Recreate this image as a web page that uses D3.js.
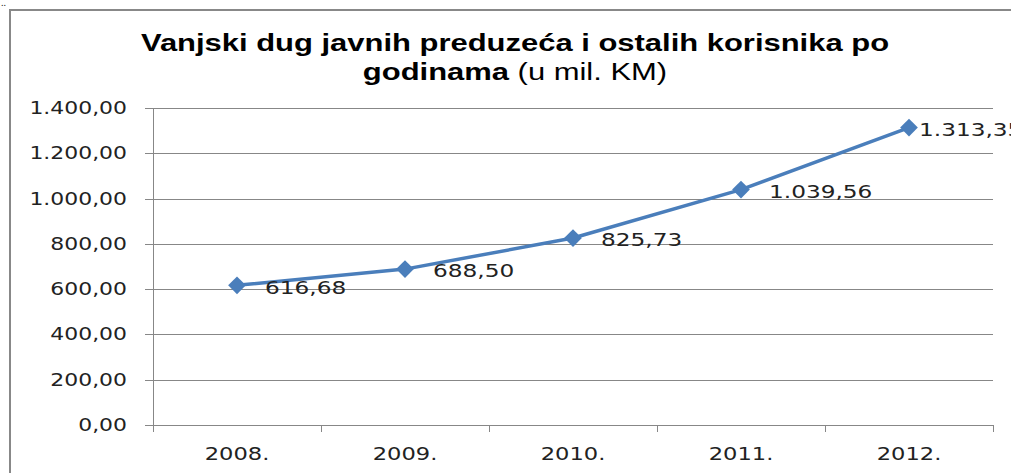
<!DOCTYPE html>
<html><head><meta charset="utf-8">
<script src="https://cdn.jsdelivr.net/npm/d3@7"></script>
<style>body{margin:0;background:#fff}svg{display:block}</style>
</head><body>
<script>
const categories = ["2008.", "2009.", "2010.", "2011.", "2012."];
const values = [616.68, 688.50, 825.73, 1039.56, 1313.35];
const yTicks = [0, 200, 400, 600, 800, 1000, 1200, 1400];
const titleLine1 = "Vanjski dug javnih preduzeća i ostalih korisnika po";
const titleLine2Bold = "godinama";
const titleLine2Rest = " (u mil. KM)";

(function () {
const W = 1011, H = 473;
const SX = 1.29;
const svg = d3.select("body").append("svg").attr("width", W).attr("height", H);
const fmt = v => {
  const s = v.toFixed(2).replace(".", ",");
  const [i, d] = s.split(",");
  return i.replace(/\B(?=(\d{3})+(?!\d))/g, ".") + "," + d;
};

svg.append("path").attr("d", "M10,473 V10 H1011").attr("fill", "none").attr("stroke", "#888").attr("stroke-width", 2);
svg.append("text").attr("x", 1).attr("y", 6).attr("font-size", 10).attr("fill", "#222").text("..");

const pL = 153, pR = 993, pT = 108, pB = 425;
const x = d3.scaleBand().domain(categories).range([pL, pR]);
const y = d3.scaleLinear().domain([0, 1400]).range([pB, pT]);

const tickFont = "'DejaVu Sans', sans-serif";
svg.append("g").selectAll("line").data(yTicks).join("line")
  .attr("x1", pL - 8).attr("x2", pR).attr("y1", d => Math.round(y(d)) + 0.5).attr("y2", d => Math.round(y(d)) + 0.5)
  .attr("stroke", "#878787").attr("stroke-width", 1);
svg.append("line").attr("x1", pL + 0.5).attr("x2", pL + 0.5).attr("y1", pT).attr("y2", pB + 7)
  .attr("stroke", "#878787");
svg.append("g").selectAll("line").data(categories).join("line")
  .attr("x1", d => Math.round(x(d) + x.bandwidth()) + 0.5).attr("x2", d => Math.round(x(d) + x.bandwidth()) + 0.5)
  .attr("y1", pB).attr("y2", pB + 7)
  .attr("stroke", "#878787");

svg.append("g").selectAll("text").data(yTicks).join("text")
  .attr("transform", d => `translate(127,${y(d)}) scale(${SX},1)`)
  .attr("dy", "0.35em").attr("text-anchor", "end")
  .attr("font-family", tickFont).attr("font-size", 17).attr("fill", "#222")
  .text(d => fmt(d));
svg.append("g").selectAll("text").data(categories).join("text")
  .attr("transform", d => `translate(${x(d) + x.bandwidth() / 2},460) scale(${SX},1)`)
  .attr("text-anchor", "middle")
  .attr("font-family", tickFont).attr("font-size", 17.5).attr("fill", "#222")
  .text(d => d);

const cx = (d, i) => x(categories[i]) + x.bandwidth() / 2;
svg.append("path").datum(values)
  .attr("d", d3.line().x((d, i) => cx(d, i)).y(d => y(d)))
  .attr("fill", "none").attr("stroke", "#4A7EBB").attr("stroke-width", 3.5).attr("stroke-linejoin", "round");
svg.append("g").selectAll("path").data(values).join("path")
  .attr("transform", (d, i) => `translate(${cx(d, i)},${y(d)})`)
  .attr("d", d3.symbol(d3.symbolDiamond2, 200))
  .attr("fill", "#4A7EBB");
svg.append("g").selectAll("text").data(values).join("text")
  .attr("dy", "0.35em")
  .attr("font-family", tickFont).attr("font-size", 18).attr("fill", "#222")
  .text(d => fmt(d))
  .each(function (d, i) {
    const w = this.getComputedTextLength() * SX;
    // Excel pulls a label that would leave the chart area back toward the point
    let lx = cx(d, i) + 28;
    if (lx + w > W + 12) lx = cx(d, i) + 10;
    d3.select(this).attr("transform", `translate(${lx},${y(d) + 2}) scale(${SX},1)`);
  });

const tf = "'Liberation Sans', Arial, sans-serif";
svg.append("text").attr("transform", `translate(515,51) scale(${SX},1)`).attr("text-anchor", "middle")
  .attr("font-family", tf).attr("font-weight", "bold").attr("font-size", 24).attr("fill", "#000")
  .text(titleLine1);
const t2 = svg.append("text").attr("transform", `translate(515,80) scale(${SX},1)`).attr("text-anchor", "middle")
  .attr("font-family", tf).attr("font-size", 24).attr("fill", "#000");
t2.append("tspan").attr("font-weight", "bold").text(titleLine2Bold);
t2.append("tspan").text(titleLine2Rest);
})();
</script>
</body></html>
